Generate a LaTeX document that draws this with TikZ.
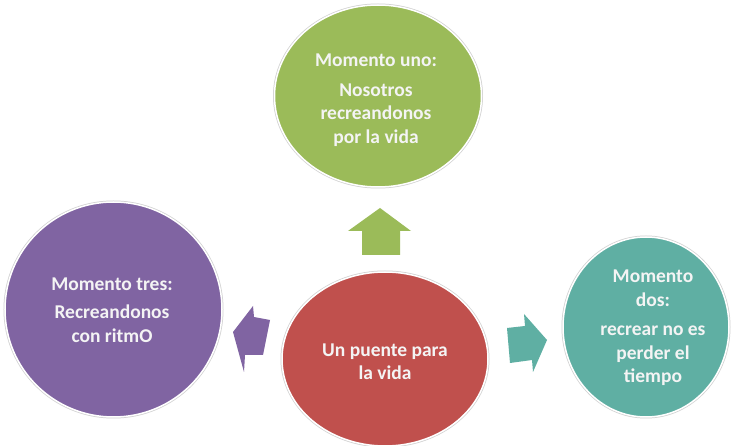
\documentclass[tikz,border=0pt]{standalone}
\usepackage{fontspec}
\setmainfont{Carlito}
\usetikzlibrary{shapes.geometric}
\definecolor{cgreen}{HTML}{9BBB59}
\definecolor{cpurple}{HTML}{8064A2}
\definecolor{cred}{HTML}{C0504D}
\definecolor{cteal}{HTML}{5FAFA3}
\definecolor{ctext}{HTML}{F4F4F4}
\begin{document}
\begin{tikzpicture}[x=1pt,y=-1pt,
  bubble/.style={ellipse, draw=white, line width=1.5pt, inner sep=0pt,
    preaction={draw=black!18, line width=3pt}},
  txt/.style={inner sep=0pt, text=ctext, font=\fontsize{19.5}{23.5}\selectfont\bfseries, align=center},
  blockarrow/.style={draw=none}]
\useasboundingbox[fill=white] (0,0) rectangle (732,446);
\node[bubble, fill=cgreen, minimum width=207pt, minimum height=182pt] (uno) at (378,96) {};
\node[bubble, fill=cpurple, minimum width=217pt, minimum height=215pt] (tres) at (113.5,309.5) {};
\node[bubble, fill=cteal, minimum width=166pt, minimum height=180pt] (dos) at (646,327) {};
\node[bubble, fill=cred, minimum width=206pt, minimum height=174pt] (puente) at (385,359) {};
\node[txt] (unotxt) at (376,100) {Momento uno:\\[6pt]Nosotros\\recreandonos\\por la vida};
\node[txt] (trestxt) at (112,310) {Momento tres:\\[5pt]Recreandonos\\con ritmO};
\node[txt] (dostxt) at (653,328) {Momento\\dos:\\[6pt]recrear no es\\perder el\\tiempo};
\node[txt] (puentetxt) at (385,362) {Un puente para\\la vida};
% block arrows
\fill[cgreen, blockarrow] (380,208) -- (411,231) -- (400,231) -- (400,255) -- (362,255) -- (362,231) -- (348,231) -- cycle;
\fill[cpurple, blockarrow] (233,332) -- (253,306) -- (254,317) -- (270,320) -- (263,355) -- (245,355) -- (244,372) -- cycle;
\fill[cteal, blockarrow] (547,340) -- (524,314) -- (525,326) -- (507,328) -- (510,363) -- (532,360) -- (533,372) -- cycle;
\end{tikzpicture}
\end{document}
